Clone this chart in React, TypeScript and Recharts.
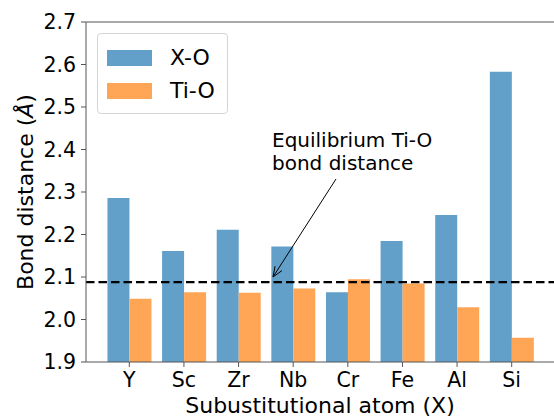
import { BarChart, Bar, XAxis, YAxis, ReferenceLine, Legend } from "recharts";

const atoms = ["Y", "Sc", "Zr", "Nb", "Cr", "Fe", "Al", "Si"];
const xoDistance = [2.286, 2.161, 2.211, 2.172, 2.064, 2.185, 2.246, 2.583];
const tioDistance = [2.049, 2.064, 2.063, 2.073, 2.095, 2.085, 2.029, 1.957];
const equilibriumTiO = 2.088;
const yTicks = [1.9, 2.0, 2.1, 2.2, 2.3, 2.4, 2.5, 2.6, 2.7];
const seriesNames = ["X-O", "Ti-O"];

const data = atoms.map((atom, i) => ({ atom, xo: xoDistance[i], tio: tioDistance[i] }));

const FONT = "'DejaVu Sans', sans-serif";
const AXIS_COLOR = "#555";
const BLUE = "#62a0ca";
const ORANGE = "#ffa556";

function LegendBox({ payload }: any) {
  const items = [...(payload ?? [])].sort(
    (a: any, b: any) => seriesNames.indexOf(a.value) - seriesNames.indexOf(b.value)
  );
  return (
    <div
      style={{
        border: "1px solid #d5d5d5",
        borderRadius: 4,
        background: "rgba(255,255,255,0.8)",
        padding: "7px 12px 6px 9px",
        fontFamily: FONT,
        fontSize: 22,
        color: "#000",
      }}
    >
      {items.map((p: any) => (
        <div key={p.value} style={{ display: "flex", alignItems: "center", height: 33 }}>
          <span style={{ width: 45, height: 16, background: p.color, display: "inline-block", marginRight: 18 }} />
          <span>{p.value}</span>
        </div>
      ))}
    </div>
  );
}

// annotation text + arrow pointing at the dashed line, drawn over the chart
function Annotation() {
  const x0 = 336, y0 = 179, x1 = 273, y1 = 277;
  const ang = Math.atan2(y1 - y0, x1 - x0);
  const head = 11, spread = 0.38;
  const h1 = [x1 - head * Math.cos(ang - spread), y1 - head * Math.sin(ang - spread)];
  const h2 = [x1 - head * Math.cos(ang + spread), y1 - head * Math.sin(ang + spread)];
  return (
    <svg width={554} height={418} style={{ position: "absolute", left: 0, top: 0, pointerEvents: "none" }}>
      <text fontFamily={FONT} fontSize={20} fill="#000">
        <tspan x={272} y={147}>Equilibrium Ti-O</tspan>
        <tspan x={272} y={170}>bond distance</tspan>
      </text>
      <line x1={x0} y1={y0} x2={x1} y2={y1} stroke="#000" strokeWidth={1} />
      <polyline points={`${h1[0]},${h1[1]} ${x1},${y1} ${h2[0]},${h2[1]}`} fill="none" stroke="#000" strokeWidth={1} />
    </svg>
  );
}

function YLabel({ viewBox }: any) {
  const cx = 33;
  const cy = viewBox ? viewBox.y + viewBox.height / 2 : 192;
  return (
    <text x={cx} y={cy} transform={`rotate(-90, ${cx}, ${cy})`} textAnchor="middle" fontFamily={FONT} fontSize={22} fill="#000">
      Bond distance (<tspan fontStyle="italic">Å</tspan>)
    </text>
  );
}

export default function App() {
  return (
    <div style={{ position: "absolute", left: 0, top: 0, width: 554, height: 418, background: "#fff" }}>
      <BarChart
        width={554}
        height={418}
        data={data}
        margin={{ top: 22, right: 0, bottom: 0, left: 0 }}
        barCategoryGap="10%"
        barGap={0}
        style={{ fontFamily: FONT }}
      >
        <XAxis
          dataKey="atom"
          height={56}
          padding={{ left: 16, right: 15 }}
          tick={{ fill: "#000", fontSize: 20.5, fontFamily: FONT }}
          tickSize={5}
          tickMargin={5}
          axisLine={{ stroke: AXIS_COLOR }}
          tickLine={{ stroke: AXIS_COLOR }}
          label={{ value: "Subustitutional atom (X)", position: "insideBottom", offset: 5, fontSize: 22, fill: "#000", fontFamily: FONT }}
        />
        <YAxis
          width={86}
          domain={[1.9, 2.7]}
          ticks={yTicks}
          tickFormatter={(v: number) => v.toFixed(1)}
          tick={{ fill: "#000", fontSize: 20.5, fontFamily: FONT }}
          tickSize={5}
          tickMargin={5}
          axisLine={{ stroke: AXIS_COLOR }}
          tickLine={{ stroke: AXIS_COLOR }}
          label={<YLabel />}
        />
        <ReferenceLine y={2.7} stroke={AXIS_COLOR} />
        <Bar dataKey="xo" name="X-O" fill={BLUE} isAnimationActive={false} />
        <Bar dataKey="tio" name="Ti-O" fill={ORANGE} isAnimationActive={false} />
        <ReferenceLine y={equilibriumTiO} stroke="#000" strokeWidth={2.2} strokeDasharray="8.5 4" />
        <Legend
          layout="horizontal"
          verticalAlign="middle"
          align="center"
          wrapperStyle={{ left: 97, top: 33, width: "auto", height: "auto" }}
          content={<LegendBox />}
        />
      </BarChart>
      <Annotation />
    </div>
  );
}
